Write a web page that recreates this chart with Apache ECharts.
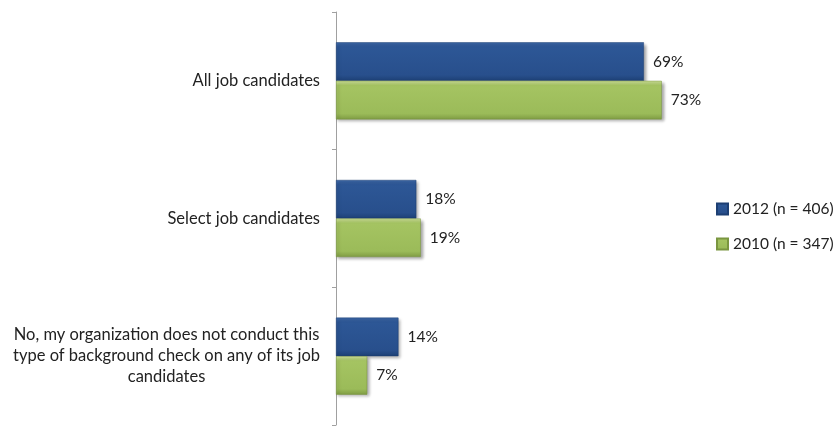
<!DOCTYPE html>
<html><head><meta charset="utf-8">
<script src="https://cdn.jsdelivr.net/npm/echarts@6/dist/echarts.min.js"></script>
<style>html,body{margin:0;padding:0;background:#fff}#c{width:838px;height:426px}</style>
</head><body><div id="c"></div>
<script>
const categories = [
  "All job candidates",
  "Select job candidates",
  "No, my organization does not conduct this\ntype of background check on any of its job\ncandidates"
];
const seriesNames = ["2012 (n = 406)", "2010 (n = 347)"];
const values2012 = [69, 18, 14];
const values2010 = [73, 19, 7];

const FONT = "Lato";
const blue = new echarts.graphic.LinearGradient(0,0,0,1,[
  {offset:0,color:'#3d68a8'},{offset:0.12,color:'#2d5796'},{offset:0.85,color:'#284f8c'},{offset:1,color:'#1d4075'}]);
const green = new echarts.graphic.LinearGradient(0,0,0,1,[
  {offset:0,color:'#cfe29a'},{offset:0.12,color:'#a5c462'},{offset:0.85,color:'#9bbb59'},{offset:1,color:'#7f9c43'}]);

const chart = echarts.init(document.getElementById('c'), null, {renderer:'canvas'});
chart.setOption({
  animation:false,
  textStyle:{fontFamily:FONT},
  grid:{left:336, right:145, top:12, bottom:1, containLabel:false},
  legend:{
    orient:'vertical', left:711, top:196, itemGap:19,
    itemWidth:11, itemHeight:11, icon:'rect',
    textStyle:{fontFamily:FONT, fontSize:15.5, color:'#222'},
    data:seriesNames
  },
  xAxis:{type:'value', min:0, max:80, show:false},
  yAxis:{
    type:'category', inverse:true, data:categories,
    axisLine:{show:true, lineStyle:{color:'#a0a0a0', width:1}},
    axisTick:{show:true, length:4, lineStyle:{color:'#a0a0a0'}},
    axisLabel:{
      margin:16, fontFamily:FONT, fontSize:16.5, color:'#222', lineHeight:21,
      formatter:function(v){ return v.split('\n').map(s=>'{c|'+s+'}').join('\n'); },
      rich:{c:{align:'center', fontFamily:FONT, fontSize:16.5, color:'#222', lineHeight:21}}
    },
    splitLine:{show:false}
  },
  series:[
    {name:seriesNames[0], type:'bar', data:values2012, barGap:'0%', barCategoryGap:'44%',
     itemStyle:{color:blue, borderColor:'#1d3f73', borderWidth:0.5, shadowBlur:3, shadowColor:'rgba(0,0,0,0.35)', shadowOffsetX:2, shadowOffsetY:2},
     label:{show:true, position:'right', distance:9, formatter:'{c}%', fontFamily:FONT, fontSize:15.5, color:'#222'}},
    {name:seriesNames[1], type:'bar', data:values2010, barGap:'0%', barCategoryGap:'44%',
     itemStyle:{color:green, borderColor:'#7a9640', borderWidth:0.5, shadowBlur:3, shadowColor:'rgba(0,0,0,0.35)', shadowOffsetX:2, shadowOffsetY:2},
     label:{show:true, position:'right', distance:9, formatter:'{c}%', fontFamily:FONT, fontSize:15.5, color:'#222'}}
  ]
});
</script></body></html>
